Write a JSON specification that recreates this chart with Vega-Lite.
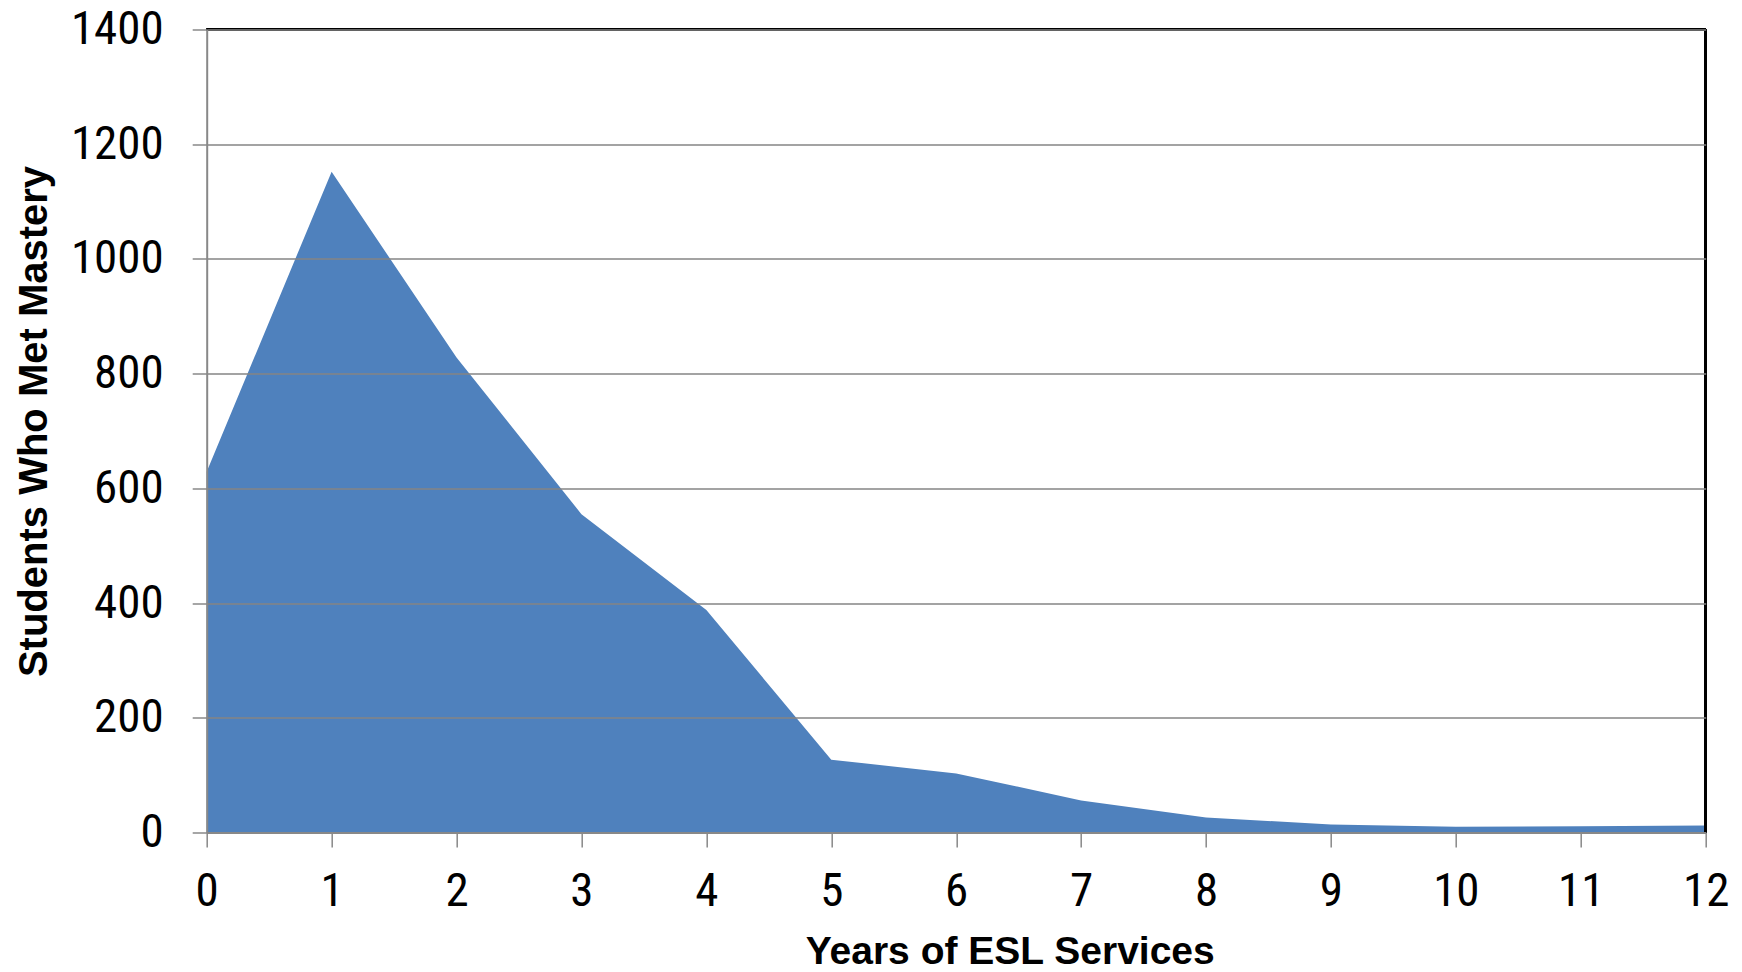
{
  "$schema": "https://vega.github.io/schema/vega-lite/v6.json",
  "width": 1499,
  "height": 803,
  "autosize": "none",
  "padding": {"left": 206.7, "top": 29.5, "right": 36.3, "bottom": 139.5},
  "background": "white",
  "config": {"view": {"stroke": null}},
  "data": {
    "values": [
      {"year": 0, "students": 629},
      {"year": 1, "students": 1152},
      {"year": 2, "students": 828},
      {"year": 3, "students": 555},
      {"year": 4, "students": 388},
      {"year": 5, "students": 127},
      {"year": 6, "students": 103},
      {"year": 7, "students": 56},
      {"year": 8, "students": 26},
      {"year": 9, "students": 14},
      {"year": 10, "students": 10},
      {"year": 11, "students": 11},
      {"year": 12, "students": 12}
    ]
  },
  "layer": [
    {
      "mark": {"type": "area", "color": "#4F81BD", "opacity": 1},
      "encoding": {
        "x": {
          "field": "year",
          "type": "quantitative",
          "scale": {"domain": [0, 12], "nice": false},
          "axis": {
            "title": "Years of ESL Services",
            "values": [0,1,2,3,4,5,6,7,8,9,10,11,12],
            "format": "d",
            "grid": false,
            "zindex": 1,
            "domainColor": "#888888",
            "domainWidth": 2,
            "tickColor": "#888888",
            "tickWidth": 1.5,
            "tickSize": 14.5,
            "labelFont": "Roboto Condensed, DejaVu Sans Condensed, Liberation Sans",
            "labelFontSize": 47,
            "labelColor": "#000000",
            "labelPadding": 21,
            "labelFlush": false,
            "labelOverlap": false,
            "titleFont": "Liberation Sans",
            "titleFontWeight": "bold",
            "titleFontSize": 39,
            "titleColor": "#000000",
            "titleX": 803,
            "titleY": 131,
            "titleAlign": "center",
            "titleBaseline": "alphabetic"
          }
        },
        "y": {
          "field": "students",
          "type": "quantitative",
          "scale": {"domain": [0, 1400], "nice": false},
          "axis": {
            "title": "Students Who Met Mastery",
            "values": [0,200,400,600,800,1000,1200,1400],
            "format": "d",
            "grid": true,
            "gridColor": "#858585",
            "gridWidth": 1.6,
            "zindex": 1,
            "domainColor": "#888888",
            "domainWidth": 2,
            "tickColor": "#888888",
            "tickWidth": 1.5,
            "tickSize": 14.5,
            "labelFont": "Roboto Condensed, DejaVu Sans Condensed, Liberation Sans",
            "labelFontSize": 47,
            "labelColor": "#000000",
            "labelPadding": 29,
            "labelFlush": false,
            "labelOverlap": false,
            "titleFont": "Liberation Sans",
            "titleFontWeight": "bold",
            "titleFontSize": 40,
            "titleColor": "#000000",
            "titleAngle": 270,
            "titleX": -160,
            "titleY": 391.5,
            "titleAlign": "center",
            "titleBaseline": "alphabetic"
          }
        }
      }
    },
    {
      "mark": {"type": "rule", "color": "#000000", "strokeWidth": 2},
      "encoding": {"y": {"datum": 1400, "type": "quantitative"}}
    },
    {
      "mark": {"type": "rule", "color": "#000000", "strokeWidth": 2},
      "encoding": {"x": {"datum": 12, "type": "quantitative"}}
    }
  ]
}
